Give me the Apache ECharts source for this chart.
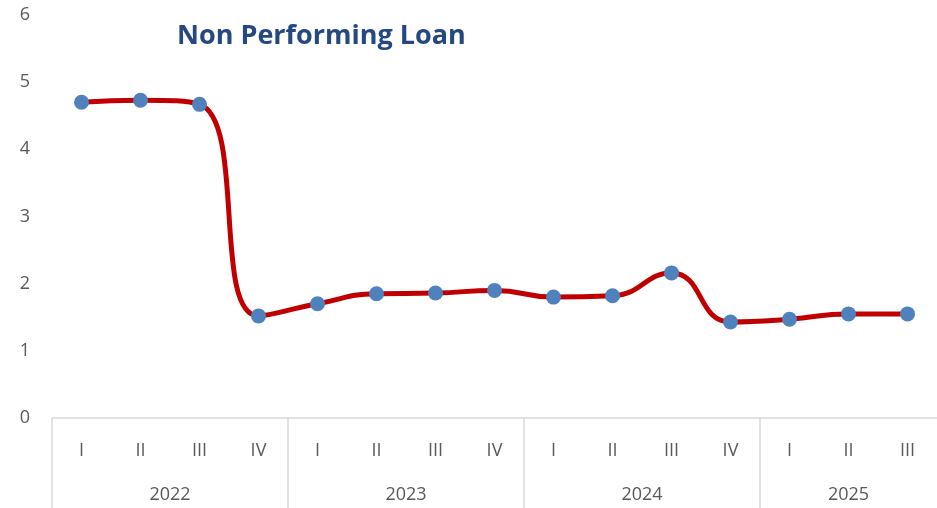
<!DOCTYPE html>
<html>
<head>
<meta charset="utf-8">
<script src="https://cdn.jsdelivr.net/npm/echarts@6/dist/echarts.min.js"></script>
<style>
  html, body { margin: 0; padding: 0; background: #fff; }
  #chart { width: 937px; height: 508px; }
</style>
</head>
<body>
<div id="chart"></div>
<script>
// quarters and years along the bottom
var quarters = ['I', 'II', 'III', 'IV', 'I', 'II', 'III', 'IV', 'I', 'II', 'III', 'IV', 'I', 'II', 'III'];
var years = ['2022', '2023', '2024', '2025'];
var quartersPerYear = [4, 4, 4, 3];
// NPL values (%)
var nplValues = [4.70, 4.73, 4.67, 1.52, 1.70, 1.85, 1.86, 1.90, 1.80, 1.82, 2.16, 1.43, 1.47, 1.55, 1.55];
var yTicks = [0, 1, 2, 3, 4, 5, 6];

// year group boundaries and centres in quarter units
var bounds = [0];
quartersPerYear.forEach(function (n) { bounds.push(bounds[bounds.length - 1] + n); });
var centres = years.map(function (y, i) { return (bounds[i] + bounds[i + 1]) / 2; });

var chartDom = document.getElementById('chart');
var myChart = echarts.init(chartDom);

var option = {
  animation: false,
  title: {
    text: 'Non Performing Loan',
    left: 172,
    top: 18,
    textStyle: {
      color: '#24487f',
      fontFamily: 'Open Sans',
      fontWeight: 'bold',
      fontSize: 27
    }
  },
  grid: {
    left: 52,
    right: 0,
    top: 15,
    bottom: 90
  },
  xAxis: [
    {
      type: 'category',
      data: quarters,
      boundaryGap: true,
      axisLine: { show: true, lineStyle: { color: '#d9d9d9', width: 1.5 } },
      axisTick: { show: false },
      axisLabel: {
        color: '#595959',
        fontFamily: 'Open Sans',
        fontSize: 18,
        margin: 24
      }
    },
    {
      type: 'value',
      position: 'bottom',
      min: 0,
      max: bounds[bounds.length - 1],
      axisLine: { show: false },
      splitLine: { show: false },
      axisTick: {
        show: true,
        length: 90,
        customValues: bounds.slice(0, -1),
        lineStyle: { color: '#d9d9d9', width: 1.5 }
      },
      axisLabel: {
        color: '#595959',
        fontFamily: 'Open Sans',
        fontSize: 18,
        margin: 68,
        customValues: centres,
        formatter: function (v) {
          var i = centres.indexOf(v);
          return i >= 0 ? years[i] : '';
        }
      }
    }
  ],
  yAxis: {
    type: 'value',
    min: yTicks[0],
    max: yTicks[yTicks.length - 1],
    interval: 1,
    axisLine: { show: false },
    axisTick: { show: false },
    splitLine: { show: false },
    axisLabel: {
      color: '#595959',
      fontFamily: 'Open Sans',
      fontSize: 18,
      margin: 22
    }
  },
  series: [
    {
      name: 'NPL',
      type: 'line',
      xAxisIndex: 0,
      data: nplValues,
      smooth: 0.5,
      symbol: 'circle',
      symbolSize: 15,
      lineStyle: { color: '#c00000', width: 5 },
      itemStyle: { color: '#4f81bd' },
      z: 3
    }
  ]
};

option && myChart.setOption(option);
</script>
</body>
</html>
